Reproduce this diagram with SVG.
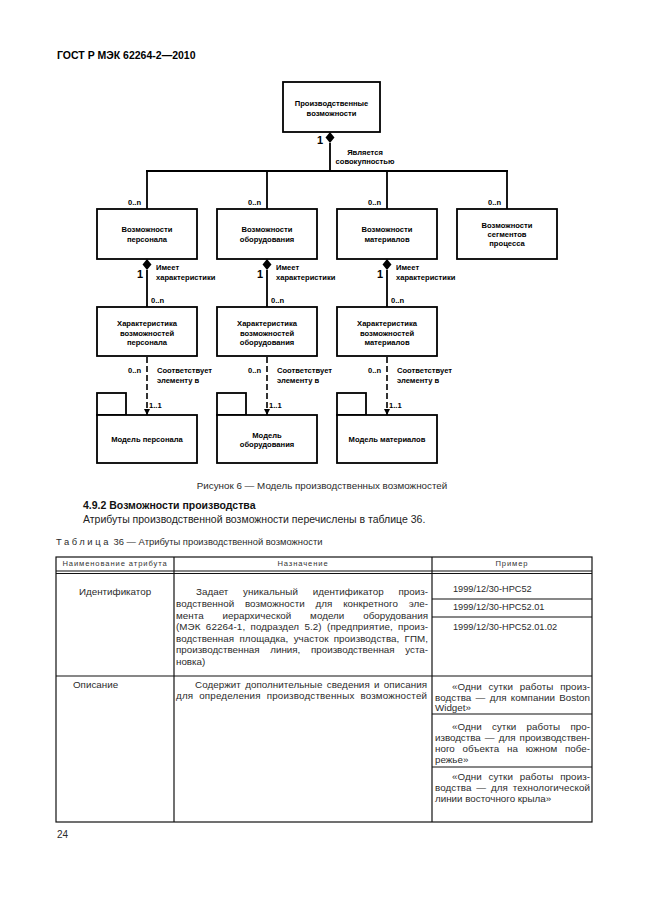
<svg xmlns="http://www.w3.org/2000/svg" width="646" height="913" viewBox="0 0 646 913">
<style>
.box{fill:#fff;stroke:#000;stroke-width:1.8}
.ln{fill:none;stroke:#000;stroke-width:1.8}
.dash{fill:none;stroke:#000;stroke-width:1.6;stroke-dasharray:6 3}
.dia{fill:#000}
.t{font-family:"Liberation Sans",Arial,sans-serif;font-weight:bold;font-size:7.6px;fill:#000}
.c{text-anchor:middle}
.one{font-family:"Liberation Sans",Arial,sans-serif;font-weight:bold;font-size:11px;fill:#000}
.tb{fill:none;stroke:#111;stroke-width:1.2}
.b{font-family:"Liberation Sans",Arial,sans-serif;font-size:9.8px;fill:#2b2b2b}
.e{font-family:"Liberation Sans",Arial,sans-serif;font-size:9.2px;fill:#2b2b2b}
.h{font-family:"Liberation Sans",Arial,sans-serif;font-size:7.6px;fill:#333;letter-spacing:0.9px}
.p{font-family:"Liberation Sans",Arial,sans-serif;font-size:10.5px;fill:#222}
</style>
<defs>
<marker id="arr" markerWidth="6" markerHeight="6" refX="6" refY="3" orient="auto" markerUnits="userSpaceOnUse"><path d="M0,0 L6,3 L0,6 z" fill="#000"/></marker>
</defs>
<rect width="646" height="913" fill="#fff"/>
<text x="57" y="59" style="font-family:'Liberation Sans',Arial,sans-serif;font-weight:bold;font-size:10.5px;fill:#000">ГОСТ Р МЭК 62264-2—2010</text>

<g id="connectors">
<polygon class="dia" points="330,132 334.5,137.5 330,143 325.5,137.5"/>
<line class="ln" x1="330" y1="143" x2="330" y2="171"/>
<line class="ln" x1="146" y1="171" x2="508" y2="171"/>
<line class="ln" x1="147" y1="171" x2="147" y2="209"/>
<line class="ln" x1="267" y1="171" x2="267" y2="209"/>
<line class="ln" x1="387" y1="171" x2="387" y2="209"/>
<line class="ln" x1="507" y1="171" x2="507" y2="209"/>
<polygon class="dia" points="147,259 151.5,264.5 147,270 142.5,264.5"/>
<polygon class="dia" points="267,259 271.5,264.5 267,270 262.5,264.5"/>
<polygon class="dia" points="387,259 391.5,264.5 387,270 382.5,264.5"/>
<line class="ln" x1="147" y1="270" x2="147" y2="307"/>
<line class="ln" x1="267" y1="270" x2="267" y2="307"/>
<line class="ln" x1="387" y1="270" x2="387" y2="307"/>
<line class="dash" x1="147" y1="357" x2="147" y2="415" marker-end="url(#arr)"/>
<line class="dash" x1="267" y1="357" x2="267" y2="415" marker-end="url(#arr)"/>
<line class="dash" x1="387" y1="357" x2="387" y2="415" marker-end="url(#arr)"/>
<text class="one c" x="320" y="144">1</text>
<text class="t c" x="365" y="155">Является</text>
<text class="t c" x="365" y="164">совокупностью</text>
<text class="t" x="128" y="205">0..n</text>
<text class="t" x="248" y="205">0..n</text>
<text class="t" x="368" y="205">0..n</text>
<text class="t" x="488" y="205">0..n</text>
<text class="one c" x="140" y="278">1</text>
<text class="one c" x="260" y="278">1</text>
<text class="one c" x="380" y="278">1</text>
<text class="t" x="156" y="270">Имеет</text>
<text class="t" x="156" y="280">характеристики</text>
<text class="t" x="276" y="270">Имеет</text>
<text class="t" x="276" y="280">характеристики</text>
<text class="t" x="396" y="270">Имеет</text>
<text class="t" x="396" y="280">характеристики</text>
<text class="t" x="151" y="303">0..n</text>
<text class="t" x="271" y="303">0..n</text>
<text class="t" x="391" y="303">0..n</text>
<text class="t" x="128" y="373">0..n</text>
<text class="t" x="248" y="373">0..n</text>
<text class="t" x="368" y="373">0..n</text>
<text class="t" x="157" y="373">Соответствует</text>
<text class="t" x="157" y="383">элементу в</text>
<text class="t" x="277" y="373">Соответствует</text>
<text class="t" x="277" y="383">элементу в</text>
<text class="t" x="397" y="373">Соответствует</text>
<text class="t" x="397" y="383">элементу в</text>
<text class="t" x="149" y="408">1..1</text>
<text class="t" x="269" y="408">1..1</text>
<text class="t" x="389" y="408">1..1</text>
</g>

<g id="node-top">
<rect class="box" x="283" y="82" width="97" height="50"/>
<text class="t c" x="331.5" y="106">Производственные</text>
<text class="t c" x="331.5" y="115.5">возможности</text>
</g>
<g id="node-personnel">
<rect class="box" x="97" y="209" width="100" height="50"/>
<text class="t c" x="147" y="232">Возможности</text>
<text class="t c" x="147" y="242">персонала</text>
</g>
<g id="node-equipment">
<rect class="box" x="217" y="209" width="100" height="50"/>
<text class="t c" x="267" y="232">Возможности</text>
<text class="t c" x="267" y="242">оборудования</text>
</g>
<g id="node-material">
<rect class="box" x="337" y="209" width="100" height="50"/>
<text class="t c" x="387" y="232">Возможности</text>
<text class="t c" x="387" y="242">материалов</text>
</g>
<g id="node-segments">
<rect class="box" x="457" y="209" width="100" height="50"/>
<text class="t c" x="507" y="228">Возможности</text>
<text class="t c" x="507" y="237">сегментов</text>
<text class="t c" x="507" y="246">процесса</text>
</g>
<g id="node-char-personnel">
<rect class="box" x="97" y="307" width="100" height="49"/>
<text class="t c" x="147" y="326">Характеристика</text>
<text class="t c" x="147" y="335.5">возможностей</text>
<text class="t c" x="147" y="345">персонала</text>
</g>
<g id="node-char-equipment">
<rect class="box" x="217" y="307" width="100" height="49"/>
<text class="t c" x="267" y="326">Характеристика</text>
<text class="t c" x="267" y="335.5">возможностей</text>
<text class="t c" x="267" y="345">оборудования</text>
</g>
<g id="node-char-material">
<rect class="box" x="337" y="307" width="100" height="49"/>
<text class="t c" x="387" y="326">Характеристика</text>
<text class="t c" x="387" y="335.5">возможностей</text>
<text class="t c" x="387" y="345">материалов</text>
</g>
<g id="node-model-personnel">
<rect class="box" x="97" y="393" width="29" height="22"/>
<rect class="box" x="97" y="415" width="100" height="48"/>
<text class="t c" x="147" y="442">Модель персонала</text>
</g>
<g id="node-model-equipment">
<rect class="box" x="217" y="393" width="29" height="22"/>
<rect class="box" x="217" y="415" width="100" height="48"/>
<text class="t c" x="267" y="438">Модель</text>
<text class="t c" x="267" y="447">оборудования</text>
</g>
<g id="node-model-material">
<rect class="box" x="337" y="393" width="29" height="22"/>
<rect class="box" x="337" y="415" width="100" height="48"/>
<text class="t c" x="387" y="442">Модель материалов</text>
</g>

<text class="b c" x="322" y="489">Рисунок 6 — Модель производственных возможностей</text>
<text class="p" x="83" y="509" style="font-weight:bold;fill:#111">4.9.2 Возможности производства</text>
<text class="p" x="83" y="523">Атрибуты производственной возможности перечислены в таблице 36.</text>
<text class="b" x="56" y="545" style="font-size:9.4px"><tspan style="letter-spacing:2.6px">Таблица</tspan> 36 — Атрибуты производственной возможности</text>

<g id="table">
<rect class="tb" x="56" y="557" width="536" height="265"/>
<line class="tb" x1="174" y1="557" x2="174" y2="822"/>
<line class="tb" x1="432" y1="557" x2="432" y2="822"/>
<line class="tb" x1="56" y1="571" x2="592" y2="571"/>
<line class="tb" x1="56" y1="573.5" x2="592" y2="573.5"/>
<line class="tb" x1="56" y1="676" x2="592" y2="676"/>
<line class="tb" x1="432" y1="599" x2="592" y2="599"/>
<line class="tb" x1="432" y1="617" x2="592" y2="617"/>
<line class="tb" x1="432" y1="714" x2="592" y2="714"/>
<line class="tb" x1="432" y1="767" x2="592" y2="767"/>
<text class="h c" x="115" y="566">Наименование атрибута</text>
<text class="h c" x="303" y="566">Назначение</text>
<text class="h c" x="512" y="566">Пример</text>
<text class="b" x="79" y="595">Идентификатор</text>
<text class="b" x="196" y="595" style="word-spacing:12px" textLength="232" lengthAdjust="spacing">Задает уникальный идентификатор произ-</text>
<text class="b" x="176" y="607" style="word-spacing:8px" textLength="252" lengthAdjust="spacing">водственной возможности для конкретного эле-</text>
<text class="b" x="176" y="618.5" style="word-spacing:16px" textLength="252" lengthAdjust="spacing">мента иерархической модели оборудования</text>
<text class="b" x="176" y="630" style="word-spacing:2.5px" textLength="252" lengthAdjust="spacing">(МЭК 62264-1, подраздел 5.2) (предприятие, произ-</text>
<text class="b" x="176" y="641.5" style="word-spacing:2.5px" textLength="252" lengthAdjust="spacing">водственная площадка, участок производства, ГПМ,</text>
<text class="b" x="176" y="653" style="word-spacing:8px" textLength="252" lengthAdjust="spacing">производственная линия, производственная уста-</text>
<text class="b" x="176" y="665">новка)</text>
<text class="e" x="453" y="592">1999/12/30-HPC52</text>
<text class="e" x="453" y="610">1999/12/30-HPC52.01</text>
<text class="e" x="453" y="630">1999/12/30-HPC52.01.02</text>
<text class="b" x="73" y="688">Описание</text>
<text class="b" x="195" y="688" style="word-spacing:1.5px" textLength="232" lengthAdjust="spacing">Содержит дополнительные сведения и описания</text>
<text class="b" x="176" y="699" style="word-spacing:3px" textLength="251" lengthAdjust="spacing">для определения производственных возможностей</text>
<text class="b" x="452" y="690" style="word-spacing:4px" textLength="138" lengthAdjust="spacing">«Одни сутки работы произ-</text>
<text class="b" x="435" y="701" style="word-spacing:1.5px" textLength="155" lengthAdjust="spacing">водства — для компании Boston</text>
<text class="b" x="435" y="711">Widget»</text>
<text class="b" x="452" y="730" style="word-spacing:7.5px" textLength="138" lengthAdjust="spacing">«Одни сутки работы про-</text>
<text class="b" x="435" y="741" style="word-spacing:1.5px" textLength="155" lengthAdjust="spacing">изводства — для производствен-</text>
<text class="b" x="435" y="752" style="word-spacing:5px" textLength="155" lengthAdjust="spacing">ного объекта на южном побе-</text>
<text class="b" x="435" y="763">режье»</text>
<text class="b" x="452" y="780" style="word-spacing:4px" textLength="138" lengthAdjust="spacing">«Одни сутки работы произ-</text>
<text class="b" x="435" y="791" style="word-spacing:2px" textLength="155" lengthAdjust="spacing">водства — для технологической</text>
<text class="b" x="435" y="802">линии восточного крыла»</text>
</g>
<text class="b" x="57" y="838" style="font-size:10px">24</text>
</svg>
